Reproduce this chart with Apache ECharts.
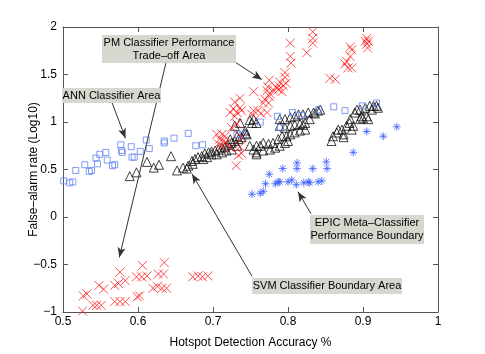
<!DOCTYPE html>
<html>
<head>
<meta charset="utf-8">
<script src="https://cdn.jsdelivr.net/npm/echarts@6/dist/echarts.min.js"></script>
<style>
  html, body { margin: 0; padding: 0; background: #fff; }
  #chart { width: 485px; height: 354px; }
</style>
</head>
<body>
<div id="chart"></div>
<script>
// ANN classifier (blue squares)
const annAcc = [0.501,0.509,0.513,0.517,0.529,0.535,0.538,0.544,0.546,0.549,0.557,0.559,0.566,0.569,0.577,0.578,0.579,0.591,0.592,0.595,0.603,0.611,0.615,0.635,0.635,0.648,0.667,0.677,0.686,0.732,0.740,0.763,0.786,0.790,0.806,0.818,0.841,0.861,0.876,0.899,0.918];
const annFar = [0.38,0.36,0.37,0.49,0.55,0.48,0.49,0.62,0.56,0.66,0.68,0.60,0.54,0.55,0.76,0.70,0.68,0.74,0.63,0.63,0.69,0.81,0.72,0.80,0.78,0.83,0.88,0.75,0.76,0.87,0.87,1.00,1.06,0.94,1.10,1.07,1.13,1.16,1.12,1.17,1.20];

// EPIC meta-classifier (blue asterisks)
const epicAcc = [0.752,0.763,0.767,0.770,0.775,0.783,0.787,0.789,0.793,0.800,0.805,0.811,0.812,0.812,0.821,0.827,0.829,0.833,0.840,0.845,0.851,0.852,0.887,0.905,0.927,0.945];
const epicFar = [0.24,0.25,0.27,0.35,0.45,0.35,0.37,0.37,0.51,0.37,0.39,0.34,0.51,0.57,0.36,0.37,0.36,0.51,0.37,0.38,0.58,0.51,0.68,0.90,0.85,0.95];

// PM classifier (red crosses): low cluster, middle, high cluster
const pmLowAcc = [0.526,0.527,0.532,0.540,0.545,0.551,0.548,0.554,0.569,0.574,0.576,0.583,0.569,0.576,0.583,0.599,0.602,0.598,0.605,0.612,0.606,0.627,0.634,0.635,0.620,0.626,0.632,0.638,0.673,0.680,0.686,0.693];
const pmLowFar = [-0.99,-0.83,-0.81,-0.93,-0.93,-0.93,-0.72,-0.76,-0.72,-0.70,-0.58,-0.67,-0.89,-0.89,-0.89,-0.84,-0.83,-0.63,-0.63,-0.62,-0.51,-0.60,-0.60,-0.48,-0.75,-0.73,-0.75,-0.75,-0.63,-0.62,-0.63,-0.62];
const pmMidAcc = [0.705,0.712,0.716,0.709,0.714,0.707,0.712,0.718,0.723,0.738,0.736,0.738,0.734,0.725,0.732,0.729,0.731];
const pmMidFar = [0.87,0.87,0.85,0.82,0.80,0.77,0.75,0.78,0.73,0.84,0.74,0.67,0.65,0.94,0.98,1.06,0.54];
const pmHighAcc = [0.833,0.833,0.833,0.825,0.803,0.803,0.804,0.796,0.796,0.797,0.794,0.789,0.788,0.792,0.787,0.775,0.773,0.772,0.776,0.775,0.769,0.767,0.774,0.780,0.785,0.754,0.736,0.729,0.727,0.736,0.738,0.723,0.732,0.754,0.752,0.760,0.764,0.772,0.856,0.863,0.876,0.878,0.883,0.885,0.883,0.880,0.885,0.905,0.907,0.905,0.906,0.903];
const pmHighFar = [1.95,1.88,1.83,1.73,1.83,1.69,1.62,1.52,1.47,1.41,1.38,1.42,1.38,1.32,1.34,1.44,1.37,1.33,1.30,1.27,1.24,1.20,1.20,1.34,1.36,1.32,1.25,1.21,1.14,1.15,1.12,1.10,1.10,1.12,1.08,1.12,1.09,1.10,1.46,1.45,1.61,1.64,1.69,1.76,1.79,1.57,1.57,1.88,1.85,1.82,1.78,1.85];

// SVM classifier (black triangles)
const svmAcc = [0.589,0.598,0.612,0.621,0.628,0.644,0.652,0.660,0.665,0.667,0.673,
  0.672,0.676,0.680,0.685,0.687,0.689,0.692,0.694,0.698,0.698,0.703,0.705,0.707,0.712,0.712,0.716,0.718,0.720,0.725,0.725,0.729,0.732,0.734,0.738,0.743,0.745,
  0.723,0.732,0.729,0.736,0.743,0.749,0.752,0.754,0.758,
  0.749,0.754,0.758,0.758,0.758,0.763,0.767,0.767,0.774,0.776,0.780,0.783,0.787,0.789,0.792,0.796,0.798,0.800,0.803,0.809,0.816,0.823,0.820,
  0.789,0.796,0.803,0.809,0.814,0.820,0.827,0.834,0.840,0.843,
  0.789,0.796,0.803,0.809,0.816,0.823,0.829,0.836,
  0.858,0.860,0.865,0.867,0.872,0.874,0.874,0.878,0.882,0.883,0.885,0.887,0.889,0.892,0.896,0.898,0.900,0.905,0.907,0.912,0.914,0.920,0.896,0.903,0.909,0.918];
const svmFar = [0.43,0.47,0.58,0.52,0.55,0.64,0.49,0.52,0.51,0.54,0.56,
  0.59,0.61,0.63,0.64,0.61,0.67,0.63,0.68,0.69,0.66,0.70,0.66,0.71,0.73,0.68,0.74,0.70,0.76,0.78,0.71,0.80,0.75,0.82,0.84,0.88,0.87,
  0.82,0.85,0.96,0.99,0.91,1.02,0.99,1.03,0.99,
  0.75,0.71,0.75,0.68,0.66,0.75,0.78,0.70,0.77,0.71,0.78,0.73,0.82,0.75,0.85,0.78,0.85,0.80,0.87,0.89,0.91,0.92,0.97,
  1.03,1.03,1.05,1.06,1.08,1.08,1.10,1.10,1.12,1.13,
  0.96,0.94,0.96,0.97,0.98,0.99,1.03,1.09,
  0.80,0.85,0.89,0.92,0.92,0.87,0.84,0.96,0.99,1.03,0.92,0.96,1.10,1.13,1.03,1.06,1.04,1.06,1.03,1.13,1.17,1.15,1.13,1.15,1.17,1.17];

// annotation arrows: [fromAcc, fromFar, toAcc, toFar]
const arrows = [
  [0.7307, 1.624, 0.7653, 1.446],   // PM -> upper cluster
  [0.6373, 1.624, 0.5751, -0.425],  // PM -> lower cluster
  [0.5653, 1.206, 0.5833, 0.829],   // ANN
  [0.752, -0.624, 0.672, 0.453],    // SVM
  [0.8307, 0.035, 0.8133, 0.265]    // EPIC
];

const pairs = (xs, ys) => xs.map((x, i) => [x, ys[i]]);
const FONT = '"Liberation Sans", Arial, Helvetica, sans-serif';
const AXIS_COLOR = '#555';

const chart = echarts.init(document.getElementById('chart'), null, { renderer: 'canvas' });

const xBase = { type: 'value', min: 0.5, max: 1, interval: 0.1, splitLine: { show: false },
  axisLine: { show: true, onZero: false, lineStyle: { color: AXIS_COLOR, width: 1 } },
  axisTick: { show: true, inside: true, length: 5, lineStyle: { color: AXIS_COLOR } } };
const yBase = { type: 'value', min: -1, max: 2, interval: 0.5, splitLine: { show: false },
  axisLine: { show: true, onZero: false, lineStyle: { color: AXIS_COLOR, width: 1 } },
  axisTick: { show: true, inside: true, length: 5, lineStyle: { color: AXIS_COLOR } } };

function box(x, y, w, h, text) {
  return [
    { type: 'rect', z: 100, shape: { x, y, width: w, height: h }, style: { fill: '#d6d8cf' } },
    { type: 'text', z: 101, x: x + w / 2, y: y + h / 2,
      style: { text, font: '11px ' + FONT, fill: '#000', align: 'center', verticalAlign: 'middle', lineHeight: 13 } }
  ];
}

const option = {
  backgroundColor: '#fff',
  animation: false,
  grid: { left: 63, right: 47, top: 27, bottom: 40 },
  xAxis: [
    Object.assign({}, xBase, {
      position: 'bottom',
      name: 'Hotspot Detection Accuracy %', nameLocation: 'middle', nameGap: 25, nameMoveOverlap: false,
      nameTextStyle: { color: '#000', fontSize: 12, fontFamily: FONT },
      axisLabel: { color: '#000', fontSize: 12, fontFamily: FONT, margin: 4 }
    }),
    Object.assign({}, xBase, { position: 'top', axisLabel: { show: false } })
  ],
  yAxis: [
    Object.assign({}, yBase, {
      position: 'left',
      name: 'False\u2013alarm rate (Log10)', nameLocation: 'middle', nameGap: 23, nameMoveOverlap: false,
      nameTextStyle: { color: '#000', fontSize: 12, fontFamily: FONT },
      axisLabel: { color: '#000', fontSize: 12, fontFamily: FONT, margin: 6,
        formatter: v => String(v).replace('-', '\u2212') }
    }),
    Object.assign({}, yBase, { position: 'right', axisLabel: { show: false } })
  ],
  series: [
    {
      name: 'SVM', type: 'scatter', symbol: 'triangle', symbolSize: 9,
      data: pairs(svmAcc, svmFar),
      itemStyle: { color: 'rgba(0,0,0,0)', borderColor: '#111', borderWidth: 1 }
    },
    {
      name: 'ANN', type: 'scatter', symbol: 'rect', symbolSize: 6,
      data: pairs(annAcc, annFar),
      itemStyle: { color: 'rgba(0,0,0,0)', borderColor: '#6283f2', borderWidth: 1 }
    },
    {
      name: 'PM', type: 'scatter', symbol: 'path://M0,0L10,10M10,0L0,10', symbolSize: 9,
      data: pairs(pmLowAcc.concat(pmMidAcc, pmHighAcc), pmLowFar.concat(pmMidFar, pmHighFar)),
      itemStyle: { color: 'rgba(0,0,0,0)', borderColor: 'rgba(255,0,0,0.85)', borderWidth: 1 }
    },
    {
      name: 'EPIC', type: 'scatter', symbol: 'path://M5,0L5,10M0,5L10,5M1.5,1.5L8.5,8.5M8.5,1.5L1.5,8.5', symbolSize: 8,
      data: pairs(epicAcc, epicFar),
      itemStyle: { color: 'rgba(0,0,0,0)', borderColor: '#3a5cff', borderWidth: 1 },
      markLine: {
        silent: true,
        symbol: ['none', 'arrow'],
        symbolSize: [6, 10],
        label: { show: false },
        lineStyle: { color: '#333', width: 1, type: 'solid' },
        data: arrows.map(a => [{ coord: [a[0], a[1]] }, { coord: [a[2], a[3]] }])
      }
    }
  ],
  graphic: [].concat(
    box(102, 35, 134, 28, 'PM Classifier Performance\nTrade\u2013off Area'),
    box(62, 88, 99, 15, 'ANN Classifier Area'),
    box(310, 215, 114, 29, 'EPIC Meta\u2013Classifier\nPerformance Boundary'),
    box(252, 278, 150, 16, 'SVM Classifier Boundary Area')
  )
};

chart.setOption(option);
</script>
</body>
</html>
